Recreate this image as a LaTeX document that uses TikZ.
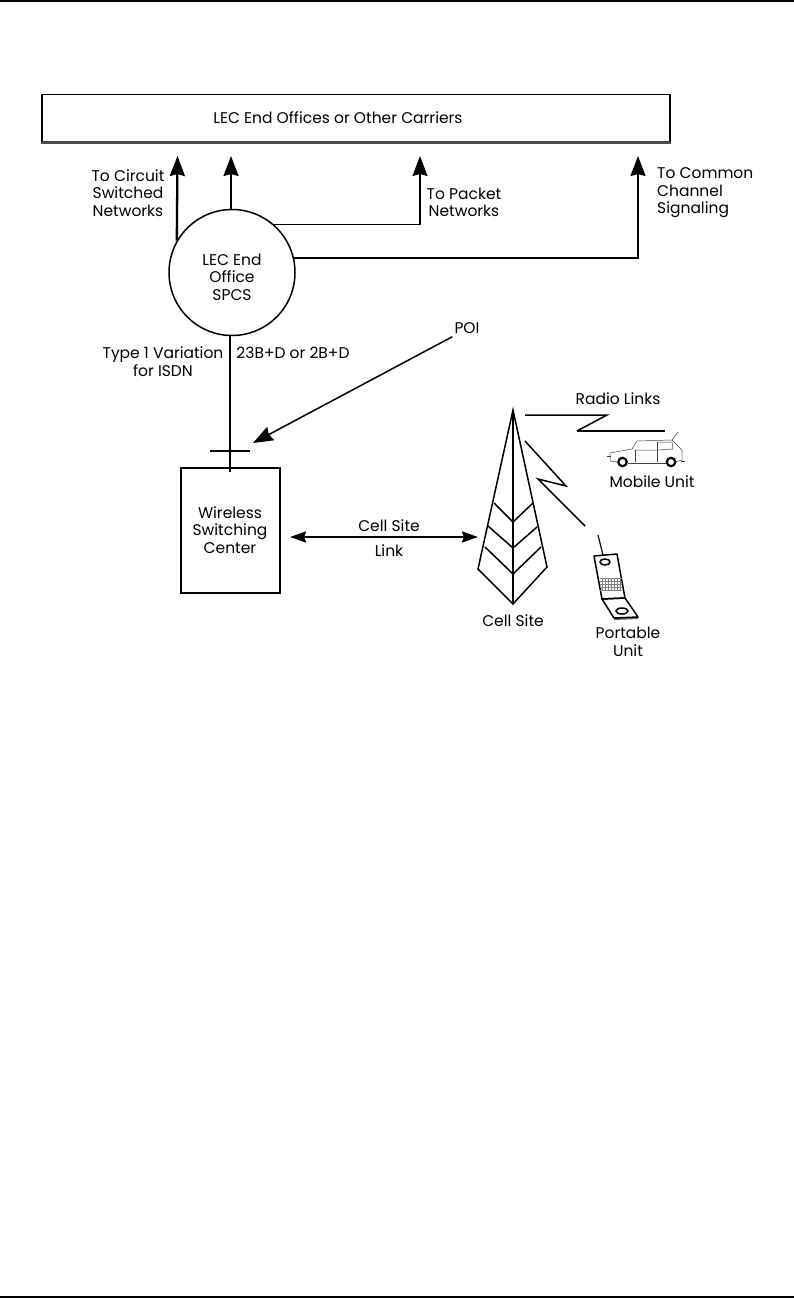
\documentclass[tikz,border=0pt]{standalone}
\usepackage{fontspec}
\setmainfont{Poppins}
\usetikzlibrary{arrows.meta}

\tikzset{
  lbl/.style={align=center,inner sep=0pt,font=\fontsize{15.5}{17.5}\selectfont},
  thinline/.style={line width=1.5pt},
  thickline/.style={line width=2.3pt},
  arw/.style={-{Stealth[length=20pt,width=15pt,inset=2pt]},thickline},
  twoarw/.style={{Stealth[length=16pt,width=11pt,inset=2pt]}-{Stealth[length=16pt,width=11pt,inset=2pt]},thickline},
  carline/.style={line width=0.5pt,black!75},
}

\begin{document}
\begin{tikzpicture}[x=1pt,y=-1pt]
  \useasboundingbox (0,0) rectangle (794,1298);
  \coordinate (TL) at (0,1);
  \coordinate (TR) at (794,1);
  \coordinate (BL) at (0,1297);
  \coordinate (BR) at (794,1297);
  \draw[line width=2pt] (TL) -- (TR);
  \draw[line width=1.5pt] (BL) -- (BR);

  \node[draw,thinline,minimum width=628pt,minimum height=47pt,inner sep=0pt] (LEC) at (356,118) {};
  \node[lbl] (LECtxt) at (338,118) {LEC End Offices or Other Carriers};
  \draw[line width=2.5pt,black!70] (LEC.south west) -- (LEC.south east);

  \node[draw,circle,thinline,minimum size=126pt,inner sep=0pt] (SPCS) at (232,272.5) {};
  \node[lbl] (SPCStxt) at (232,277) {LEC End\\Office\\SPCS};
  \node[draw,thickline,minimum width=99pt,minimum height=125pt,inner sep=0pt] (WSC) at (230.5,530.5) {};
  \node[lbl] (WSCtxt) at (230,530) {Wireless\\Switching\\Center};

  \coordinate (T1) at (177.5,156);
  \coordinate (T2) at (231,156);
  \coordinate (T3) at (420,156);
  \coordinate (T4) at (638,156);
  \draw[arw] (SPCS.150) -- (T1);
  \draw[arw] (T2 |- SPCS.north) -- (T2);
  \draw[arw,thinline] (SPCS.49) -| (T3);
  \draw[arw] (SPCS.13) -| (T4);
  \node[lbl] (CIR) at (128,193) {To Circuit\\Switched\\Networks};
  \node[lbl] (PKT) at (464,202.5) {To Packet\\Networks};
  \node[lbl,align=left,anchor=west] (CCS) at (657,193) {To Common\\Channel\\Signaling};

  \coordinate (J) at (230,472);
  \draw[thickline] (J |- SPCS.south) -- (J);
  \coordinate (P1) at (210,451);
  \coordinate (P2) at (250,451);
  \draw[thinline] (P1) -- (P2);
  \node[lbl] (T1V) at (163,361.5) {Type 1 Variation\\for ISDN};
  \node[lbl] (BD) at (293,353) {23B+D or 2B+D};
  \node[lbl] (POI) at (467,328) {POI};
  \coordinate (PT) at (253,443);
  \draw[arw,thinline] (POI.south west) ++(-2,3) -- (PT);

  \coordinate (CL) at (290,537);
  \coordinate (CR) at (478,537);
  \draw[twoarw] (CL) -- (CR);
  \node[lbl] (CS1) at (389,526) {Cell Site};
  \node[lbl] (CS2) at (389,551) {Link};

  \draw[thinline,line join=miter] (513,410) -- (478,569) -- (513,604) -- (547,567) -- cycle;
  \draw[thinline] (513,410) -- (513,604);
  \foreach \xa/\ya/\yb/\xb/\yc in {494/503/522/533/503,488/526/548/537/527,485/547/574/541/547}{
    \draw[thinline] (\xa,\ya) -- (513,\yb) -- (\xb,\yc);
  }
  \node[lbl] (CELL) at (513,621) {Cell Site};

  \draw[thinline] (525,415) -- (607,415) -- (577,431);
  \draw[thickline] (577,431) -- (665,431);
  \draw[thinline] (525,441) -- (566,486) -- (538,479) -- (585,526);
  \node[lbl] (RL) at (618,399) {Radio Links};

  \draw[carline] (617,462) -- (610,461) -- (610,453) -- (632,449) -- (637,441) -- (672,440) -- (682,450) -- (682,460) -- (675,462);
  \draw[carline] (628,463) -- (667,463);
  \draw[carline] (635,450) -- (635,462);
  \draw[carline] (635,450) -- (657,450) -- (673,449);
  \draw[carline] (657,442) -- (657,462);
  \draw[carline] (657,442) -- (672,442) -- (673,449);
  \draw[carline] (672,440) -- (678,432);
  \draw[carline] (607,456) -- (611,456);
  \draw[carline] (681,461) -- (685,461);
  \foreach \xw in {622.5,671}{
    \draw[line width=2.2pt,fill=white] (\xw,462) circle (4.2pt);
  }
  \node[lbl] (MOB) at (652,482) {Mobile Unit};

  \draw[line width=1.2pt] (598,535) -- (603,555);
  \draw[thinline,line join=round] (594,556) -- (617,554) -- (625,598) -- (602,599) -- cycle;
  \draw[line width=2pt,black!60] (614,619) -- (638,618);
  \draw[thinline,line join=round] (602,599) -- (625,598) -- (638,617) -- (614,618) -- cycle;
  \draw[thinline] (605,562) ellipse (5pt and 3pt);
  \draw[thinline] (622,611) ellipse (6pt and 3pt);
  \foreach \yk in {578,581,584,587,590}{
    \draw[line width=0.4pt,black!50] (600,\yk) -- (622,\yk);
  }
  \foreach \xk in {602,605,608,611,614,617,620}{
    \draw[line width=0.4pt,black!50] (\xk,578) -- (\xk,591);
  }
  \node[lbl] (PRT) at (628,642) {Portable\\Unit};
\end{tikzpicture}
\end{document}
